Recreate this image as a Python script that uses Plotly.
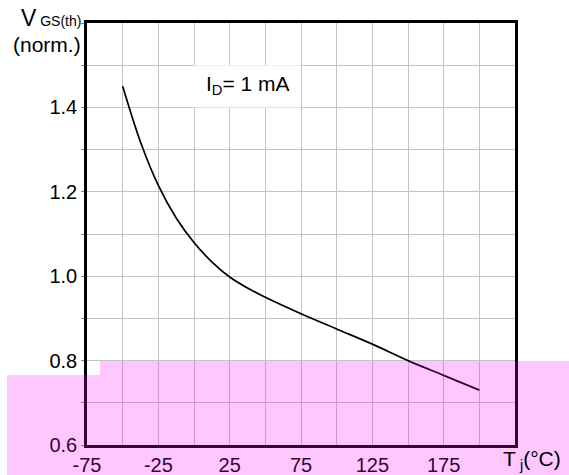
import plotly.graph_objects as go

# Data
temp_c = [-50, -37.5, -25, -12.5, 0, 12.5, 25, 37.5, 50, 75, 100, 125, 150, 175, 200]
vgs_norm = [1.45, 1.318, 1.215, 1.138, 1.08, 1.034, 0.998, 0.972, 0.95, 0.911, 0.875, 0.839, 0.80, 0.765, 0.73]

x_ticks = [-75, -25, 25, 75, 125, 175]
y_ticks = [0.6, 0.8, 1.0, 1.2, 1.4]
y_ticklabels = ["0.6", "0.8", "1.0", "1.2", "1.4"]

FONT = "Liberation Sans, Arial, sans-serif"

fig = go.Figure()
fig.add_trace(go.Scatter(
    x=temp_c, y=vgs_norm, mode="lines",
    line=dict(color="black", width=1.7, shape="spline", smoothing=1.0),
    hoverinfo="skip", showlegend=False,
))

grid_col = "#c4c4c4"
fig.update_xaxes(
    range=[-75, 225], tickvals=x_ticks, ticktext=[str(v) for v in x_ticks],
    showgrid=True, gridcolor=grid_col, gridwidth=1,
    minor=dict(dtick=25, tick0=-75, showgrid=True, gridcolor=grid_col, gridwidth=1),
    showline=True, linecolor="black", linewidth=2.5, mirror=True,
    ticks="", zeroline=False, automargin=False,
    tickfont=dict(family=FONT, size=20, color="black"),
)
fig.update_yaxes(
    range=[0.6, 1.6], tickvals=y_ticks, ticktext=y_ticklabels,
    showgrid=True, gridcolor=grid_col, gridwidth=1,
    minor=dict(dtick=0.1, tick0=0.6, showgrid=True, gridcolor=grid_col, gridwidth=1,
               ticks="outside", ticklen=3, tickcolor="#888"),
    showline=True, linecolor="black", linewidth=2.5, mirror=True,
    ticks="outside", ticklen=3, tickcolor="#888", zeroline=False, automargin=False,
    tickfont=dict(family=FONT, size=20, color="black"),
)

# white box behind the current label
fig.add_shape(type="rect", xref="x", yref="y", x0=0, x1=75, y0=1.4, y1=1.5,
              fillcolor="white", line=dict(width=0), layer="between")
fig.add_annotation(x=37.5, y=1.452, xref="x", yref="y", showarrow=False,
                   text="I<sub>D</sub>= 1 mA",
                   font=dict(family=FONT, size=21, color="black"))

W, L, R, T, B = 569, 87, 515, 23, 445
def px_x(p):
    return (p - L) / (R - L)
def px_y(p):
    return (B - p) / (B - T)

# axis titles
fig.add_annotation(x=px_x(83), y=px_y(18), xref="paper", yref="paper", showarrow=False,
                   xanchor="right", yanchor="middle",
                   text="V<span style='font-size:14px'> GS(th)</span>",
                   font=dict(family=FONT, size=23, color="black"))
fig.add_annotation(x=px_x(83), y=px_y(44), xref="paper", yref="paper", showarrow=False,
                   xanchor="right", yanchor="middle", text="(norm.)",
                   font=dict(family=FONT, size=21, color="black"))
fig.add_annotation(x=px_x(501), y=px_y(460), xref="paper", yref="paper", showarrow=False,
                   xanchor="left", yanchor="middle",
                   text="T<sub> j</sub>(°C)",
                   font=dict(family=FONT, size=21, color="black"))

# translucent pink band over the lower part of the picture
pink = "rgba(255,0,255,0.22)"
fig.add_shape(type="rect", xref="paper", yref="paper",
              x0=px_x(7), x1=px_x(569), y0=px_y(475), y1=px_y(375),
              fillcolor=pink, line=dict(width=0), layer="above")
fig.add_shape(type="rect", xref="paper", yref="paper",
              x0=px_x(100), x1=px_x(569), y0=px_y(375), y1=px_y(361),
              fillcolor=pink, line=dict(width=0), layer="above")

fig.update_layout(
    width=569, height=475,
    margin=dict(l=87, r=54, t=23, b=30, autoexpand=False),
    plot_bgcolor="white", paper_bgcolor="white",
    showlegend=False,
)

fig.write_html("out.html", config={"displayModeBar": False},
               post_script="document.body.style.margin='0';document.body.style.overflow='hidden';")
